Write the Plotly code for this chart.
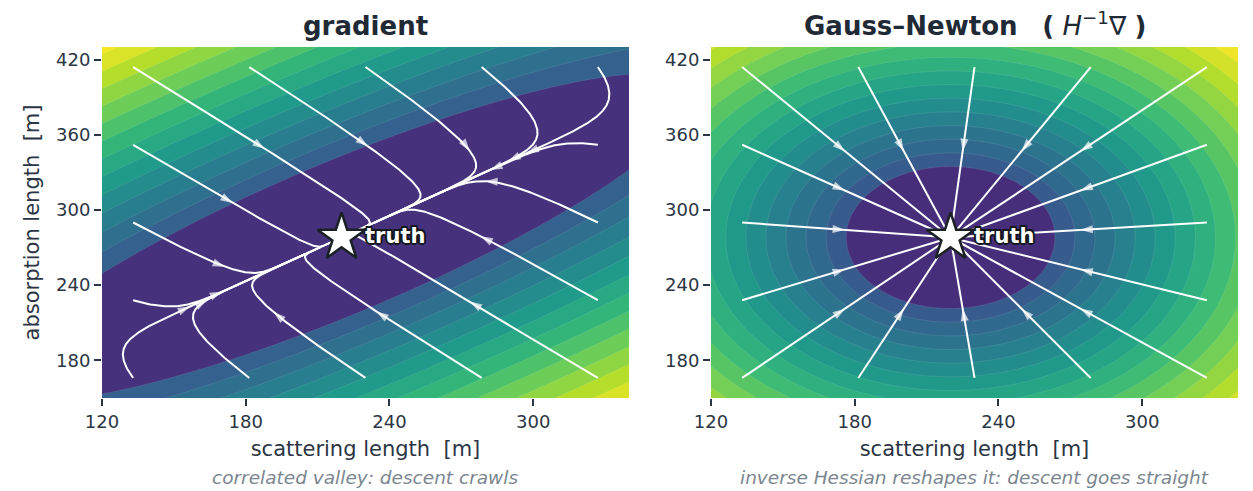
import numpy as np
import plotly.graph_objects as go
from plotly.colors import sample_colorscale

# ---- inputs -------------------------------------------------------------
truth = (220.0, 278.0)                 # (scattering, absorption) [m]
x_range = [120, 340]
y_range = [150, 430]
x_ticks = [120, 180, 240, 300]
y_ticks = [180, 240, 300, 360, 420]

# curvature of the misfit around the truth (data units)
valley_angle_deg = 41.0                # direction of the soft (valley) axis
stiff_curv = 1.0
soft_curv = 0.07
crawl_remaining = 0.2                  # share of the valley offset left after descent

# Gauss-Newton picture: whitened bowl
gn_aspect_y = 1.3

# contour levels of the normalised misfit distance
levels_grad = dict(start=0.28, size=0.058)
levels_gn = dict(start=0.26, size=0.05)

# descent start points (boundary of a 5x5 grid)
start_x = [133, 181.5, 230, 278.5, 327]
start_y = [166, 228, 290, 352, 414]

titles = ["<b>gradient</b>", "<b>Gauss–Newton</b>   <b>(</b> <i>H</i><sup>−1</sup>∇ <b>)</b>"]
subtitles = ["correlated valley: descent crawls",
             "inverse Hessian reshapes it: descent goes straight"]

FONT = "DejaVu Sans"
INK = "#2b3544"
PX_PER_X = 2.395                       # used only to place arrows at mid arc length
PX_PER_Y = 1.254

# ---- fields ---------------------------------------------------------------
xs = np.linspace(x_range[0], x_range[1], 221)
ys = np.linspace(y_range[0], y_range[1], 281)
X, Y = np.meshgrid(xs, ys)
phi = np.deg2rad(valley_angle_deg)
v_soft = np.array([np.cos(phi), np.sin(phi)])
v_stiff = np.array([np.sin(phi), -np.cos(phi)])
A = stiff_curv * np.outer(v_stiff, v_stiff) + soft_curv * np.outer(v_soft, v_soft)

DX, DY = X - truth[0], Y - truth[1]
Q1 = A[0, 0] * DX * DX + 2 * A[0, 1] * DX * DY + A[1, 1] * DY * DY
Z1 = np.sqrt(Q1 / Q1.max())
Q2 = DX * DX + (DY / gn_aspect_y) ** 2
Z2 = np.sqrt(Q2 / Q2.max())

# start points along the grid boundary
starts = []
for i, sx in enumerate(start_x):
    for j, sy in enumerate(start_y):
        if i in (0, len(start_x) - 1) or j in (0, len(start_y) - 1):
            starts.append((sx, sy))


def gradient_path(p0):
    """Continuous gradient flow dp/dt = -A (p - truth), stopped while still crawling."""
    t_end = np.log(1.0 / crawl_remaining) / soft_curv
    t = np.concatenate([np.linspace(0, 7, 350), np.linspace(7, t_end, 200)[1:]])
    d0 = np.array(p0) - np.array(truth)
    u0, w0 = d0 @ v_stiff, d0 @ v_soft
    u = u0 * np.exp(-stiff_curv * t)
    w = w0 * np.exp(-soft_curv * t)
    return np.outer(u, v_stiff) + np.outer(w, v_soft) + np.array(truth)


def gn_path(p0):
    """Newton flow: straight towards the truth."""
    s = np.linspace(0, 0.97, 60)
    p0 = np.array(p0)
    return p0 + np.outer(s, np.array(truth) - p0)


def arrow_trace(pts, xa, ya):
    seg = np.hypot(np.diff(pts[:, 0]) * PX_PER_X, np.diff(pts[:, 1]) * PX_PER_Y)
    s = np.concatenate([[0], np.cumsum(seg)])
    k = max(int(np.searchsorted(s, s[-1] / 2)), 1)
    sizes = [0] * len(pts)
    sizes[k] = 13
    return go.Scatter(
        x=pts[:, 0], y=pts[:, 1], mode="lines+markers", xaxis=xa, yaxis=ya,
        line=dict(color="white", width=2),
        marker=dict(symbol="arrow", size=sizes, color="white", angleref="previous",
                    line=dict(width=0)),
        hoverinfo="skip", showlegend=False)


def contour(Z, xa, ya, lev):
    start, size = lev["start"], lev["size"]
    n = int(np.floor((1.0 - start) / size)) + 1          # number of contour lines
    end = start + (n - 1) * size
    # each band coloured by viridis at the middle of its value range
    mids = [start / 2] + [min(start + (k - 0.5) * size, 1.0) for k in range(1, n)] + \
           [(end + 1.0) / 2]
    cols = sample_colorscale("Viridis", mids)
    cscale = [[k / n, c] for k, c in enumerate(cols)]
    return go.Contour(
        x=xs, y=ys, z=Z, xaxis=xa, yaxis=ya, colorscale=cscale, autocontour=False,
        contours=dict(coloring="fill", start=start, end=end, size=size),
        line=dict(width=0.6, color="rgba(255,255,255,0.16)"),
        showscale=False, hoverinfo="skip")


fig = go.Figure()
fig.add_trace(contour(Z1, "x", "y", levels_grad))
fig.add_trace(contour(Z2, "x2", "y2", levels_gn))

for p0 in starts:
    fig.add_trace(arrow_trace(gradient_path(p0), "x", "y"))
    fig.add_trace(arrow_trace(gn_path(p0), "x2", "y2"))

shadow = ("-1.5px -1.5px 0 #14181c, 1.5px -1.5px 0 #14181c, -1.5px 1.5px 0 #14181c, "
          "1.5px 1.5px 0 #14181c, 0 2px 0 #14181c, 0 -2px 0 #14181c, 2px 0 0 #14181c, -2px 0 0 #14181c")
for xa, ya in [("x", "y"), ("x2", "y2")]:
    fig.add_trace(go.Scatter(
        x=[truth[0]], y=[truth[1]], mode="markers+text", xaxis=xa, yaxis=ya,
        marker=dict(symbol="star", size=36, color="white", line=dict(color="#1b2024", width=2.5)),
        text=["truth"], textposition="middle right",
        textfont=dict(family=FONT, size=21, color="white", weight="bold", shadow=shadow),
        hoverinfo="skip", showlegend=False))

axis_common = dict(showgrid=False, zeroline=False, ticks="outside", ticklen=7,
                   tickwidth=2, tickcolor=INK, showline=False,
                   tickfont=dict(family=FONT, size=18, color=INK))
xtitle = dict(text="scattering length  [m]", font=dict(size=21, color=INK), standoff=10)
fig.update_layout(
    width=1253, height=491, margin=dict(l=102, r=15, t=47, b=93),
    paper_bgcolor="white", plot_bgcolor="white", showlegend=False,
    font=dict(family=FONT, color=INK),
    xaxis=dict(axis_common, domain=[0, 0.4639], range=x_range, tickvals=x_ticks, title=xtitle),
    yaxis=dict(axis_common, range=y_range, tickvals=y_ticks,
               title=dict(text="absorption length  [m]", font=dict(size=21, color=INK), standoff=10)),
    xaxis2=dict(axis_common, domain=[0.5361, 1], range=x_range, tickvals=x_ticks, anchor="y2",
                title=xtitle),
    yaxis2=dict(axis_common, range=y_range, tickvals=y_ticks, anchor="x2"),
)

for i, (t, s) in enumerate(zip(titles, subtitles)):
    xc = 0.4639 / 2 if i == 0 else (0.5361 + 1) / 2
    fig.add_annotation(text=t, x=xc, y=1.0, xref="paper", yref="paper", xanchor="center",
                       yanchor="bottom", yshift=4, showarrow=False,
                       font=dict(family=FONT, size=26, color="#1f2a36"))
    fig.add_annotation(text=f"<i>{s}</i>", x=xc, y=0, xref="paper", yref="paper",
                       xanchor="center", yanchor="top", yshift=-67, showarrow=False,
                       font=dict(family=FONT, size=18.5, color="#7b8691"))

fig.write_html("out.html")
